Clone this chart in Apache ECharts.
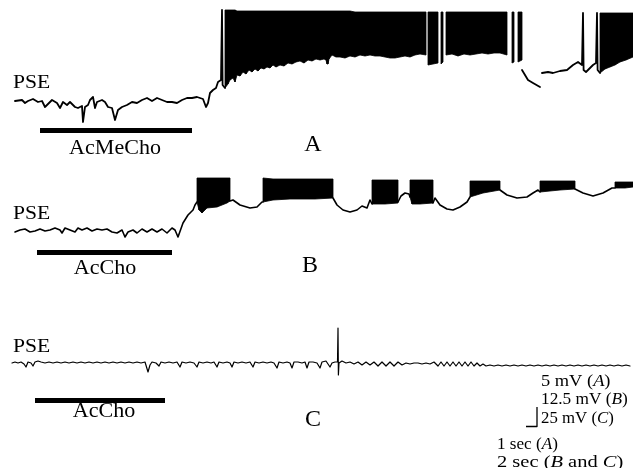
<!DOCTYPE html>
<html>
<head>
<meta charset="utf-8">
<script src="https://cdn.jsdelivr.net/npm/echarts@6/dist/echarts.min.js"></script>
<style>
html,body{margin:0;padding:0;background:#fff;}
#chart{width:633px;height:468px;}
</style>
</head>
<body>
<div id="chart"></div>
<script>
// ---------- Trace A (AcMeCho), time units along sweep, potential in trace units ----------
const traceA_t = [15,17,22,25,28,33,38,42,45,48,52,57,60,63,67,70,75,78,82,83,85,88,90,93,95,97,102,105,108,112,115,118,122,127,132,137,142,147,152,157,162,167,172,177,182,187,192,197,200,203,206,208,210,213,216,218,221,222,222.6,224,225,
  300,
  522,528,533,540,541,542,548,553,560,567,573,578,582,583,583.6,586,590,593,596,597,597.6,600];
const traceA_v = [-1,-2,0,-3,-1,1,-2,-1,-7,-4,0,-3,-8,-2,-5,-2,-7,-8,-6,-22,-7,-5,0,3,-8,-2,0,-2,-7,-8,-20,-10,-7,-5,-2,-3,0,2,-1,2,0,-2,-2,-3,0,2,2,3,2,1,-7,-3,7,10,12,18,20,90,15,14,12,
  null,
  30,20,17,13,null,27,28,27,29,30,35,38,35,87,30,28,32,35,37,87,30,27];
// burst (spike discharge) envelope: lower and upper limits
const burstA_t  = [225,228,230,233,235,237,240,243,246,249,252,255,258,261,264,267,270,273,276,280,284,288,292,296,300,304,308,312,316,320,324,326,327,328,329,332,336,340,345,350,355,360,365,370,375,380,385,390,395,400,405,410,415,420,426,
  null,428,433,438,null,441,443,null,446,452,458,464,470,476,482,488,494,500,507,null,512,514,null,518,522,null,600,605,610,615,620,626,633];
const burstA_lo = [12,16,20,22,18,25,24,28,26,30,28,31,29,32,31,33,32,35,33,35,34,37,36,38,39,37,40,39,41,40,41,40,36,36,41,45,43,43,42,44,43,45,44,45,44,44,43,42,42,43,44,43,45,46,45,
  null,35,36,37,null,36,38,null,45,46,44,46,45,46,47,46,47,47,45,null,37,38,null,38,40,null,27,31,33,35,38,40,43];
const burstA_hi = [90,90,90,90,90,89,89,89,89,89,89,89,89,89,89,89,89,89,89,89,89,89,89,89,89,89,89,89,89,89,89,89,89,89,89,89,89,89,89,89,88,88,88,88,88,88,88,88,88,88,88,88,88,88,88,
  null,88,88,88,null,88,88,null,88,88,88,88,88,88,88,88,88,88,88,null,88,88,null,88,88,null,87,87,87,87,87,87,87];
const appA_t = [40,192];   // drug application bar
const appA_v = [-30.5,-30.5];

// ---------- Trace B (AcCho) ----------
const traceB_t = [15,20,25,30,35,40,45,50,55,60,62,65,70,75,78,82,87,92,97,102,107,112,117,122,125,128,133,137,142,147,152,157,162,167,172,175,178,183,188,193,195,197,
  215,
  230,233,240,250,257,262,263,
  300,
  333,337,343,350,357,362,367,370,372,
  385,
  398,401,405,409,410,
  420,
  433,435,440,447,453,460,467,470,
  485,
  500,502,507,517,527,533,538,540,
  560,
  575,577,583,593,603,612,615];
const traceB_v = [0,2,3,0,1,3,1,2,4,2,-1,4,2,0,4,2,4,1,3,2,3,0,-1,2,-5,0,2,-1,3,0,3,0,3,-1,4,2,-5,9,17,22,27,30,
  null,
  31,32,27,24,25,30,30,
  null,
  34,27,22,20,22,26,24,32,28,
  null,
  30,36,39,38,35,
  null,
  29,34,27,23,22,25,30,35,
  null,
  42,40,37,34,35,39,42,40,
  null,
  43,42,39,36,39,44,44];
const burstB_t  = [197,199,202,207,217,227,230,null,263,273,290,300,315,333,null,372,385,398,null,410,412,420,433,null,470,483,500,null,540,560,575,null,615,625,633];
const burstB_lo = [30,22,19,24,25,29,31,null,30,32,33,33,33,34,null,28,28,29,null,35,28,28,29,null,35,39,42,null,40,42,43,null,44,44,45];
const burstB_hi = [54,54,54,54,54,54,54,null,54,53,53,53,53,53,null,52,52,52,null,52,52,52,52,null,51,51,51,null,51,51,51,null,50,50,50];
const appB_t = [37,172];
const appB_v = [-20.5,-20.5];

// ---------- Trace C (AcCho, no response) ----------
const traceC_t = [12,15,18,21,24,26,28,31,33,35,38,41,45,49,53,57,61,65,69,73,77,81,85,89,93,97,101,105,109,113,117,121,125,129,133,137,141,145,148,150,152,156,159,161,165,169,173,177,180,182,186,190,194,197,199,203,207,211,214,217,219,223,227,230,232,234,238,242,246,250,253,255,259,263,267,271,274,277,279,283,287,290,292,294,298,302,305,307,309,313,317,320,322,326,330,332,335,337.5,338,338.4,339,342,
  346,350,354,358,362,366,370,374,378,382,386,390,394,398,402,406,410,414,418,422,426,430,434,438,441,444,447,450,453,456,459,462,465,468,471,474,477,480,483,486,490,494,498,502,506,510,514,518,522,526,530,534,538,542,546,550,554,558,562,566,570,574,578,582,586,590,594,598,602,606,610,614,618,622,626,630];
const traceC_v = [0,1,0,1,-1,-4,1,0,-3,1,2,1,0,1,0,1,0,1,0,1,0,1,0,1,0,1,0,1,0,1,0,1,0,1,0,1,0,1,-9,-2,1,0,-3,1,0,1,0,1,-4,1,0,1,0,-4,1,0,1,0,1,-4,1,0,1,0,-4,1,0,1,0,1,-4,1,0,1,0,1,0,-5,1,0,1,0,-5,1,1,0,1,-5,1,1,0,-5,1,2,-4,0,1,1,35,-12,0,2,
  0,1,-1,1,-2,1,-2,1,-3,1,-3,1,-3,1,-2,0,-1,0,0,-1,0,-1,1,-3,1,-3,1,-3,1,-3,1,-3,1,-3,1,-3,0,-3,-1,-3,-2,-3,-2,-3,-2,-3,-2,-3,-2,-3,-2,-3,-2,-3,-2,-3,-2,-3,-2,-3,-2,-3,-2,-3,-2,-3,-2,-3,-2,-3,-2,-3,-2,-3,-2,-3,-2,-3];
const appC_t = [35,165];
const appC_v = [-37.5,-37.5];
// calibration bar (drawn in trace C frame)
const calib_t = [526,537,537];
const calib_v = [-63.5,-63.5,-44];

// ---------- labels ----------
const pseLabel = 'PSE';
const drugLabels = ['AcMeCho','AcCho','AcCho'];
const panelLabels = ['A','B','C'];
const calibLines = ['5 mV ({i|A})','12.5 mV ({i|B})','25 mV ({i|C})','1 sec ({i|A})','2 sec ({i|B} and {i|C})'];

function pts(t, v){ return t.map((x,i)=> v[i]==null ? [x,'-'] : [x, v[i]]); }
function quads(t, lo, hi){
  const out=[];
  for(let i=0;i<t.length-1;i++){
    if(lo[i]==null||lo[i+1]==null) continue;
    out.push([t[i],lo[i],hi[i],t[i+1],lo[i+1],hi[i+1]]);
  }
  return out;
}
function burstRender(params, api){
  const a=api.coord([api.value(0),api.value(1)]);
  const b=api.coord([api.value(0),api.value(2)]);
  const c=api.coord([api.value(3),api.value(5)]);
  const d=api.coord([api.value(3),api.value(4)]);
  return {type:'polygon', shape:{points:[a,b,c,d]}, style:{fill:'#000',stroke:'#000',lineWidth:0.8}};
}
function lineS(idx, t, v, w, cap){
  return {type:'line', xAxisIndex:idx, yAxisIndex:idx, data:pts(t,v), symbol:'none', silent:true,
    lineStyle:{color:'#000', width:w, cap:cap||'round', join:'round'}, connectNulls:false, animation:false};
}
function burstS(idx, t, lo, hi){
  return {type:'custom', xAxisIndex:idx, yAxisIndex:idx, data:quads(t,lo,hi), renderItem:burstRender,
    encode:{x:[0,3], y:[1,2,4,5]}, silent:true, animation:false};
}
const serif = 'Liberation Serif';
function txt(str, x, y, size, align, sx){
  return {type:'text', x:x, y:y, scaleX:sx||1, silent:true,
    style:{text:str, x:0, y:0, fill:'#000', font:size+'px "'+serif+'"', textAlign:align||'left', textVerticalAlign:'middle',
      rich:{i:{fontStyle:'italic', fontSize:size, fontFamily:serif}}}};
}

const chart = echarts.init(document.getElementById('chart'), null, {renderer:'canvas'});
const ax = (i)=>({gridIndex:i, type:'value', min:0, max:633, show:false});
chart.setOption({
  animation:false,
  backgroundColor:'#fff',
  grid:[
    {left:0,right:0,top:0,height:160},
    {left:0,right:0,top:160,height:160},
    {left:0,right:0,top:320,height:148}
  ],
  xAxis:[ax(0),ax(1),ax(2)],
  yAxis:[
    {gridIndex:0,type:'value',min:-60,max:100,show:false},
    {gridIndex:1,type:'value',min:-88,max:72,show:false},
    {gridIndex:2,type:'value',min:-105,max:43,show:false}
  ],
  series:[
    lineS(0, traceA_t, traceA_v, 1.8),
    burstS(0, burstA_t, burstA_lo, burstA_hi),
    lineS(0, appA_t, appA_v, 5, 'butt'),
    lineS(1, traceB_t, traceB_v, 1.6),
    burstS(1, burstB_t, burstB_lo, burstB_hi),
    lineS(1, appB_t, appB_v, 5, 'butt'),
    lineS(2, traceC_t, traceC_v, 1.2),
    lineS(2, appC_t, appC_v, 5, 'butt'),
    lineS(2, calib_t, calib_v, 1.3, 'butt')
  ],
  graphic:[
    txt(pseLabel, 13, 83, 18, 'left', 1.2),
    txt(pseLabel, 13, 214, 18, 'left', 1.2),
    txt(pseLabel, 13, 347, 18, 'left', 1.2),
    txt(drugLabels[0], 115, 148, 21, 'center', 1.05),
    txt(drugLabels[1], 105, 268, 21, 'center', 1.05),
    txt(drugLabels[2], 104, 411, 21, 'center', 1.05),
    txt(panelLabels[0], 313, 145, 24, 'center'),
    txt(panelLabels[1], 310, 266, 24, 'center'),
    txt(panelLabels[2], 313, 420, 24, 'center'),
    txt(calibLines[0], 541, 382, 16, 'left', 1.15),
    txt(calibLines[1], 541, 400, 16, 'left', 1.08),
    txt(calibLines[2], 541, 419, 16, 'left', 1.05),
    txt(calibLines[3], 497, 445, 16, 'left', 1.07),
    txt(calibLines[4], 497, 463, 16, 'left', 1.28)
  ]
});
</script>
</body>
</html>
